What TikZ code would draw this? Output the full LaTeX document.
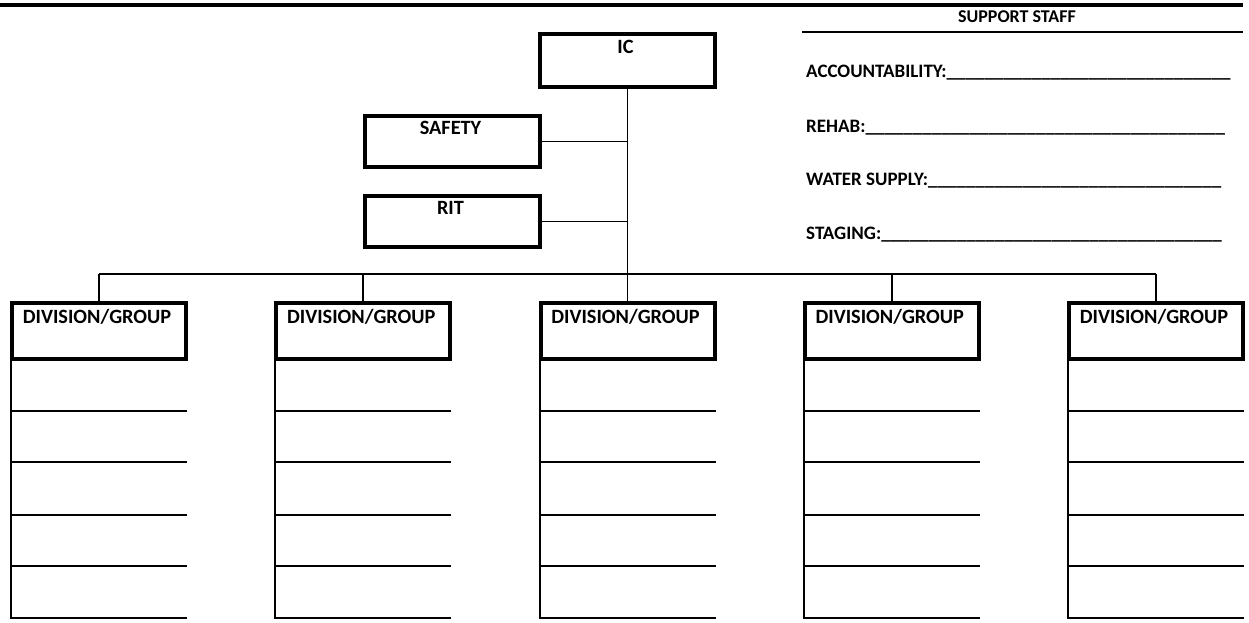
\documentclass[tikz,border=0pt]{standalone}
\usepackage{fontspec}
\setmainfont{Carlito}
\begin{document}
\begin{tikzpicture}[x=1pt,y=-1pt,
  thickbox/.style={draw=black,line width=4pt,rectangle,inner sep=0pt,anchor=north west},
  boxtext/.style={anchor=base,inner sep=0pt,font=\fontsize{20.3}{21}\selectfont\bfseries},
  lbl/.style={anchor=base west,inner sep=0pt,font=\fontsize{19}{20}\selectfont\bfseries},
  conn/.style={draw=black,line width=1.7pt},
  formline/.style={draw=black,line width=2pt}]
\useasboundingbox (0,0) rectangle (1249,623);
% top rule
\coordinate (topL) at (0,5);
\coordinate (topR) at (1243,5);
\draw[line width=4pt] (topL) -- (topR);
% support staff
\node[anchor=base,inner sep=0pt,font=\fontsize{18}{19}\selectfont\bfseries] (ss) at (1017,23) {SUPPORT STAFF};
\coordinate (ssL) at (802,32);
\coordinate (ssR) at (1243,32);
\draw[line width=2.5pt] (ssL) -- (ssR);
\node[lbl] (acc) at (806,78) {ACCOUNTABILITY:\_\_\_\_\_\_\_\_\_\_\_\_\_\_\_\_\_\_\_\_\_\_\_\_\_\_\_\_\_\_};
\node[lbl] (reh) at (806,132) {REHAB:\_\_\_\_\_\_\_\_\_\_\_\_\_\_\_\_\_\_\_\_\_\_\_\_\_\_\_\_\_\_\_\_\_\_\_\_\_\_};
\node[lbl] (ws) at (806,185) {WATER SUPPLY:\_\_\_\_\_\_\_\_\_\_\_\_\_\_\_\_\_\_\_\_\_\_\_\_\_\_\_\_\_\_\_};
\node[lbl] (stg) at (806,239) {STAGING:\_\_\_\_\_\_\_\_\_\_\_\_\_\_\_\_\_\_\_\_\_\_\_\_\_\_\_\_\_\_\_\_\_\_\_\_};
% IC
\node[thickbox,minimum width=175pt,minimum height=53pt] (ic) at (538,32) {};
\node[boxtext] (ict) at (625.5,53.5) {IC};
% safety and RIT
\node[thickbox,minimum width=175pt,minimum height=51pt] (saf) at (363,114) {};
\node[boxtext] (saft) at (450.5,134.5) {SAFETY};
\node[thickbox,minimum width=175pt,minimum height=51pt] (rit) at (363,194) {};
\node[boxtext] (ritt) at (450.5,214.5) {RIT};
% trunk and bus
\coordinate (bus) at (ic.south |- 0,274);
\draw[conn] (ic.south) -- (bus);
\draw[conn] (saf.east) -- (saf.east -| ic.south);
\draw[conn] (rit.east) -- (rit.east -| ic.south);
% division boxes
\foreach \i in {0,...,4}{
  \pgfmathsetmacro{\xl}{8+264.25*\i}
  \node[thickbox,minimum width=174pt,minimum height=56pt] (div\i) at (\xl+2,301) {};
  \node[boxtext] (divt\i) at (\xl+89,323.5) {DIVISION/GROUP};
  \coordinate (drop\i) at (div\i.north |- 0,274);
  \draw[conn] (drop\i) -- (div\i.north);
  \coordinate (vb\i) at (\xl+3,359);
  \coordinate (ve\i) at (\xl+3,618);
  \draw[formline] (vb\i) -- (ve\i);
  \foreach \yy [count=\k] in {411,462,515,566,618}{
    \coordinate (hl\i\k) at (\xl+2,\yy);
    \coordinate (hr\i\k) at (\xl+179,\yy);
    \draw[formline] (hl\i\k) -- (hr\i\k);
  }
}
\draw[conn] (drop0) -- (drop4);
\end{tikzpicture}
\end{document}
